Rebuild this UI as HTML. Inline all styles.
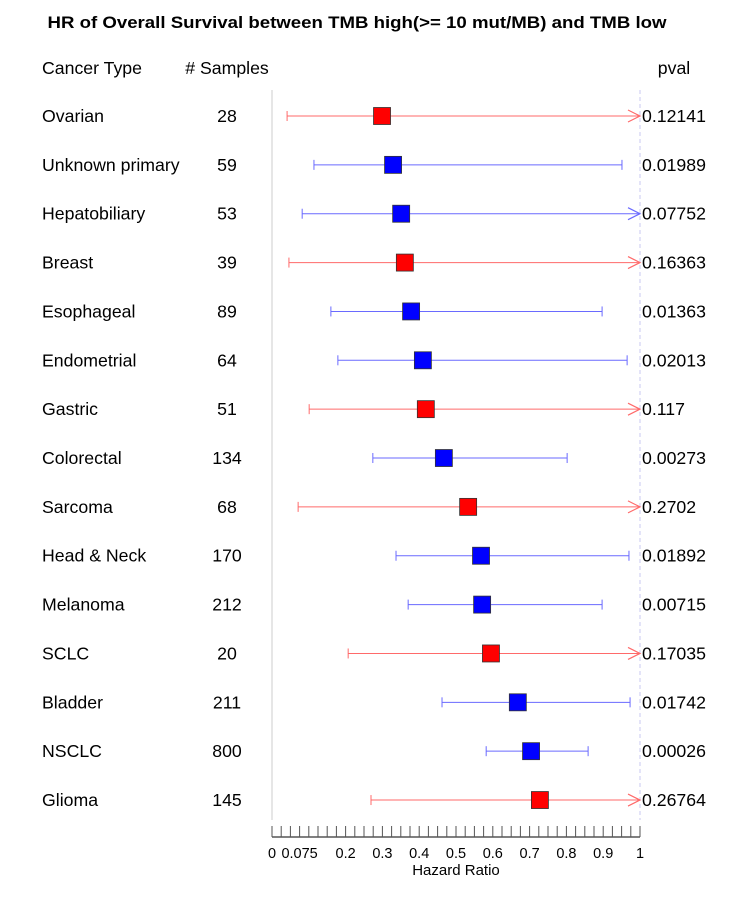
<!DOCTYPE html>
<html><head><meta charset="utf-8"><style>
body{margin:0;background:#fff}
text{font-family:"Liberation Sans",Arial,sans-serif}
</style></head><body>
<svg width="750" height="900" xmlns="http://www.w3.org/2000/svg" id="chart">
<text x="357" y="28" text-anchor="middle" font-size="17" font-weight="bold" textLength="619" lengthAdjust="spacingAndGlyphs">HR of Overall Survival between TMB high(&gt;= 10 mut/MB) and TMB low</text>
<text x="42" y="74" font-size="17.7">Cancer Type</text>
<text x="227" y="74" font-size="17.7" text-anchor="middle"># Samples</text>
<text x="674" y="74" font-size="17.7" text-anchor="middle">pval</text>
<line x1="272" y1="90" x2="272" y2="820" stroke="#ccc" stroke-width="1"/>
<line x1="640" y1="90" x2="640" y2="820" stroke="#c8c8f0" stroke-dasharray="4,3" stroke-width="1"/>
<g id="rows"></g>
<g id="axis"></g>
<text x="456" y="875" text-anchor="middle" font-size="15">Hazard Ratio</text>
</svg>
<script>
const cancers=["Ovarian","Unknown primary","Hepatobiliary","Breast","Esophageal","Endometrial","Gastric","Colorectal","Sarcoma","Head & Neck","Melanoma","SCLC","Bladder","NSCLC","Glioma"];
const samples=[28,59,53,39,89,64,51,134,68,170,212,20,211,800,145];
const hr=[0.299,0.329,0.351,0.361,0.378,0.410,0.418,0.467,0.533,0.568,0.571,0.595,0.668,0.704,0.728];
const lower=[0.041,0.114,0.082,0.046,0.160,0.179,0.101,0.274,0.071,0.337,0.370,0.207,0.462,0.582,0.269];
const upper=[1.5,0.951,1.5,1.5,0.897,0.965,1.5,0.802,1.5,0.970,0.897,1.5,0.973,0.859,1.5];
const pvals=["0.12141","0.01989","0.07752","0.16363","0.01363","0.02013","0.117","0.00273","0.2702","0.01892","0.00715","0.17035","0.01742","0.00026","0.26764"];
const significant=[false,true,true,false,true,true,false,true,false,true,true,false,true,true,false];
const tickLabels=[0,0.075,0.2,0.3,0.4,0.5,0.6,0.7,0.8,0.9,1];
const NS="http://www.w3.org/2000/svg";
const x=v=>272+368*Math.min(v,1);
const y=i=>116+48.86*i;
function mk(t,a,p){const e=document.createElementNS(NS,t);for(const k in a)e.setAttribute(k,a[k]);(p||document.getElementById('rows')).appendChild(e);return e;}
cancers.forEach((c,i)=>{
  const yy=y(i), col=significant[i]?"#0000ff":"#ff0000", lc=significant[i]?"#6a6aff":"#ff6a6a";
  const g=mk('g',{});
  
  
  let t=mk('text',{x:42,y:yy+6,'font-size':17.7},g);t.textContent=c;
  
  t=mk('text',{x:227,y:yy+6,'font-size':17.7,'text-anchor':'middle'},g);t.textContent=samples[i];
  
  t=mk('text',{x:642,y:yy+6,'font-size':17.7},g);t.textContent=pvals[i];
  
  const l=mk('line',{x1:x(lower[i]),y1:yy,x2:x(upper[i]),y2:yy,stroke:lc,'stroke-width':1},g);
  
  mk('line',{x1:x(lower[i]),y1:yy-5,x2:x(lower[i]),y2:yy+5,stroke:lc},g);
  if(upper[i]>1){const ax=x(1);mk('polyline',{points:`${ax-12},${yy-6} ${ax},${yy} ${ax-12},${yy+6}`,fill:'none',stroke:lc,'stroke-width':1.2},g);}
  else mk('line',{x1:x(upper[i]),y1:yy-5,x2:x(upper[i]),y2:yy+5,stroke:lc},g);
  const r=mk('rect',{x:x(hr[i])-8.5,y:yy-8.5,width:17,height:17,fill:col,stroke:'#333','stroke-width':0.8},g);
  
});
const ax=document.getElementById('axis');

mk('line',{x1:272,y1:837,x2:640,y2:837,stroke:'#000'},ax);
for(let k=0;k<=40;k++){const v=k*0.025;mk('line',{x1:x(v),y1:826,x2:x(v),y2:837,stroke:'#555'},ax);}
tickLabels.forEach(v=>{const t=mk('text',{x:x(v),y:858,'font-size':14.5,'text-anchor':'middle'},ax);t.textContent=v;
  });
</script>
</body></html>
